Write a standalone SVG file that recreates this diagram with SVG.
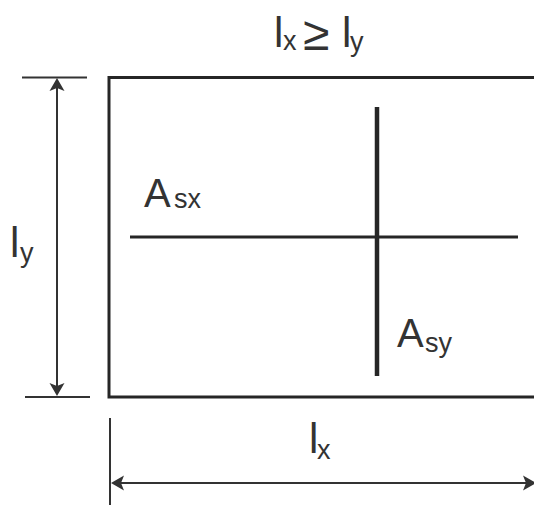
<svg xmlns="http://www.w3.org/2000/svg" width="534" height="505" viewBox="0 0 534 505">
<style>
.ln{stroke:#262626;fill:none;stroke-linecap:butt}
.dim{stroke:#333;stroke-width:2;fill:none}
.ah{fill:#333;stroke:none}
.t{font-family:"Liberation Sans",Arial,sans-serif;fill:#333}
.big{font-size:42px}
.sub{font-size:27px}
</style>
<rect width="534" height="505" fill="#fff"/>
<g id="slab">
<path class="ln" stroke-width="3" d="M534,77.5 H109 V397 H534"/>
</g>
<g id="bar-asx">
<line class="ln" stroke-width="3" x1="130" y1="237" x2="518" y2="237"/>
<text class="t" x="144" y="207" font-size="40">A</text>
<text class="t sub" x="174" y="208">sx</text>
</g>
<g id="bar-asy">
<line class="ln" stroke-width="4.5" x1="377" y1="107" x2="377" y2="376"/>
<text class="t" x="397" y="347" font-size="40">A</text>
<text class="t sub" x="425" y="352">sy</text>
</g>
<g id="title">
<text class="t big" x="274" y="47">l</text>
<text class="t sub" x="283" y="50">x</text>
<text class="t" x="303" y="50" font-size="48">≥</text>
<text class="t big" x="342" y="47">l</text>
<text class="t sub" x="350" y="51">y</text>
</g>
<g id="connectors">
<line class="dim" x1="22" y1="77.5" x2="87" y2="77.5"/>
<line class="dim" x1="25" y1="397" x2="90" y2="397"/>
<line class="dim" x1="57" y1="84" x2="57" y2="390"/>
<path class="ah" d="M57,78 L64.5,91 L57,88 L49.5,91 Z"/>
<path class="ah" d="M57,396 L49.5,383 L57,386 L64.5,383 Z"/>
<line class="dim" x1="110" y1="418" x2="110" y2="505"/>
<line class="dim" x1="117" y1="483" x2="534" y2="483"/>
<path class="ah" d="M111,483 L124,475.5 L121,483 L124,490.5 Z"/>
<path class="ah" d="M536,483 L523,475.5 L526,483 L523,490.5 Z"/>
</g>
<g id="dim-labels">
<text class="t big" x="10" y="257">l</text>
<text class="t sub" x="20" y="262">y</text>
<text class="t big" x="309" y="453">l</text>
<text class="t sub" x="317" y="459">x</text>
</g>
</svg>
